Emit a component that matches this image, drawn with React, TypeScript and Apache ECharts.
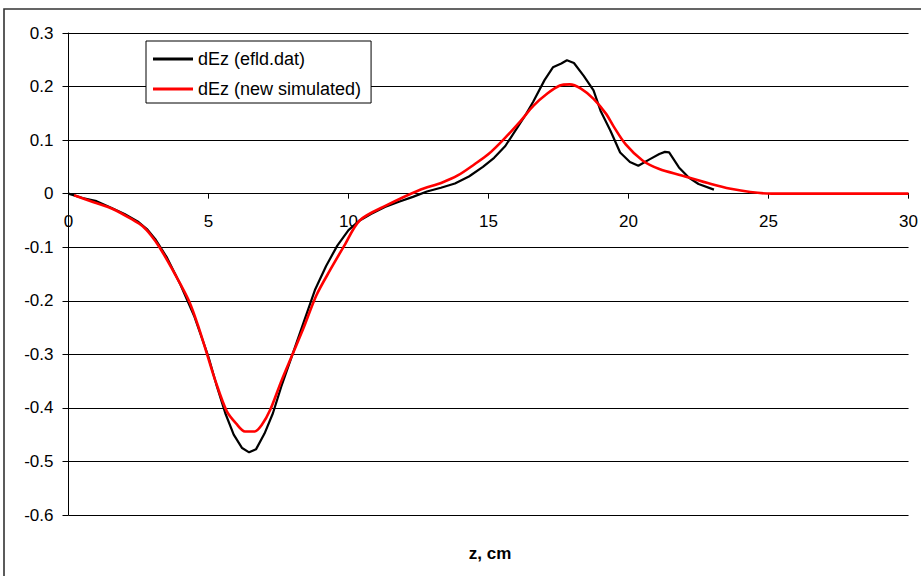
import React, { useEffect, useRef } from "react";
import * as echarts from "echarts";

const xTicks = [0, 5, 10, 15, 20, 25, 30];
const yTicks = [-0.6, -0.5, -0.4, -0.3, -0.2, -0.1, 0, 0.1, 0.2, 0.3];

const efldZ = [
  0, 0.5, 1.0, 1.5, 2.0, 2.5, 2.8, 3.1, 3.5, 4.0, 4.5, 5.0, 5.3, 5.6, 5.9, 6.2, 6.45, 6.7, 7.0, 7.3, 7.6, 8.0,
  8.4, 8.8, 9.2, 9.6, 10.0, 10.4, 10.8, 11.3, 11.8, 12.3, 12.8, 13.3, 13.8, 14.3, 14.8, 15.2, 15.6, 15.9,
  16.3, 16.6, 17.0, 17.3, 17.6, 17.8, 18.05, 18.4, 18.75, 19.0, 19.35, 19.7, 20.05, 20.35, 20.75, 21.1,
  21.3, 21.45, 21.8, 22.15, 22.5, 23.05,
];
const efldV = [
  0, -0.008, -0.014, -0.026, -0.038, -0.053, -0.066, -0.085, -0.118, -0.17, -0.23, -0.305, -0.36, -0.41,
  -0.45, -0.475, -0.483, -0.477, -0.448, -0.41, -0.36, -0.3, -0.24, -0.18, -0.135, -0.097, -0.068, -0.05,
  -0.038, -0.025, -0.015, -0.006, 0.004, 0.011, 0.019, 0.032, 0.05, 0.067, 0.089, 0.113, 0.145, 0.172,
  0.212, 0.236, 0.243, 0.249, 0.244, 0.22, 0.193, 0.155, 0.118, 0.077, 0.059, 0.052, 0.064, 0.074, 0.078,
  0.077, 0.049, 0.03, 0.018, 0.0075,
];

const simZ = [
  0.2, 0.9, 1.6, 2.3, 2.65, 2.95, 3.25, 3.8, 4.3, 4.65, 4.95, 5.25, 5.65, 6.0, 6.3, 6.65, 6.9, 7.2, 7.6, 8.0,
  8.4, 8.85, 9.35, 9.85, 10.4, 11.35, 12.5, 13.35, 13.9, 14.5, 15.0, 15.55, 16.15, 16.6, 17.1, 17.55, 17.9,
  18.3, 18.75, 19.2, 19.45, 19.9, 20.5, 21.1, 21.9, 22.95, 23.65, 24.35, 25.1, 30,
];
const simV = [
  -0.003, -0.016, -0.029, -0.049, -0.061, -0.078, -0.1, -0.15, -0.2, -0.25, -0.3, -0.35, -0.406, -0.43,
  -0.444, -0.444, -0.432, -0.404, -0.35, -0.3, -0.25, -0.19, -0.142, -0.097, -0.05, -0.022, 0.006, 0.021,
  0.034, 0.055, 0.074, 0.102, 0.136, 0.164, 0.187, 0.202, 0.204, 0.196, 0.177, 0.149, 0.127, 0.092, 0.062,
  0.046, 0.034, 0.018, 0.009, 0.003, 0, 0,
];

const seriesNames = ["dEz (efld.dat)", "dEz (new simulated)"];
const xTitle = "z, cm";

const FONT = "Arial, 'Liberation Sans', sans-serif";

export default function App() {
  const ref = useRef<HTMLDivElement>(null);
  useEffect(() => {
    if (!ref.current) return;
    const chart = echarts.init(ref.current, undefined, { renderer: "svg" });
    const fmtY = (v: number) => {
      const r = Math.round(v * 10) / 10;
      return Math.abs(r) < 1e-9 ? "0" : String(r);
    };
    const gridTop = 33;
    const gridH = 482;
    const yMin = yTicks[0];
    const yMax = yTicks[yTicks.length - 1];
    const zeroOffset = -(gridH * (0 - yMin)) / (yMax - yMin);
    chart.setOption({
      animation: false,
      backgroundColor: "#fff",
      grid: { left: 68.5, right: 1.5, top: gridTop, height: gridH, containLabel: false },
      xAxis: {
        type: "value",
        position: "bottom",
        offset: zeroOffset,
        min: xTicks[0],
        max: xTicks[xTicks.length - 1],
        interval: 5,
        axisLine: { show: true, onZero: false, lineStyle: { color: "#000", width: 1 } },
        axisTick: { show: true, length: 5, lineStyle: { color: "#000" } },
        axisLabel: { color: "#000", fontSize: 17, fontFamily: FONT, margin: 19 },
        splitLine: { show: false },
      },
      yAxis: {
        type: "value",
        min: yMin,
        max: yMax,
        interval: 0.1,
        axisLine: { show: true, onZero: false, lineStyle: { color: "#000", width: 1 } },
        axisTick: { show: true, length: 6, lineStyle: { color: "#000" } },
        axisLabel: { color: "#000", fontSize: 17, fontFamily: FONT, margin: 15, formatter: fmtY },
        splitLine: { show: true, lineStyle: { color: "#000", width: 1 } },
      },
      legend: {
        orient: "vertical",
        left: 146,
        top: 41,
        padding: [9, 10, 5, 7],
        itemGap: 12,
        itemWidth: 40,
        itemHeight: 3,
        icon: "rect",
        borderColor: "#000",
        borderWidth: 1,
        backgroundColor: "#fff",
        textStyle: { color: "#000", fontSize: 18, fontFamily: FONT, lineHeight: 18 },
        data: seriesNames,
      },
      graphic: [
        {
          type: "rect",
          shape: { x: 4, y: 9, width: 960, height: 620 },
          style: { fill: "none", stroke: "#333", lineWidth: 1.6 },
          silent: true,
          z: 100,
        },
        {
          type: "text",
          x: 490,
          y: 553,
          style: {
            text: xTitle,
            fill: "#000",
            font: `bold 17px ${FONT}`,
            textAlign: "center",
            textVerticalAlign: "middle",
          },
        },
      ],
      series: [
        {
          name: seriesNames[0],
          type: "line",
          symbol: "none",
          lineStyle: { color: "#000", width: 2.2 },
          itemStyle: { color: "#000" },
          data: efldZ.map((z, i) => [z, efldV[i]]),
          z: 2,
        },
        {
          name: seriesNames[1],
          type: "line",
          symbol: "none",
          smooth: 0.3,
          lineStyle: { color: "#ff0000", width: 2.6 },
          itemStyle: { color: "#ff0000" },
          data: simZ.map((z, i) => [z, simV[i]]),
          z: 3,
        },
      ],
    });
    return () => chart.dispose();
  }, []);
  return (
    <div
      ref={ref}
      style={{ position: "fixed", left: 0, top: 0, width: 921, height: 576, background: "#fff" }}
    />
  );
}
